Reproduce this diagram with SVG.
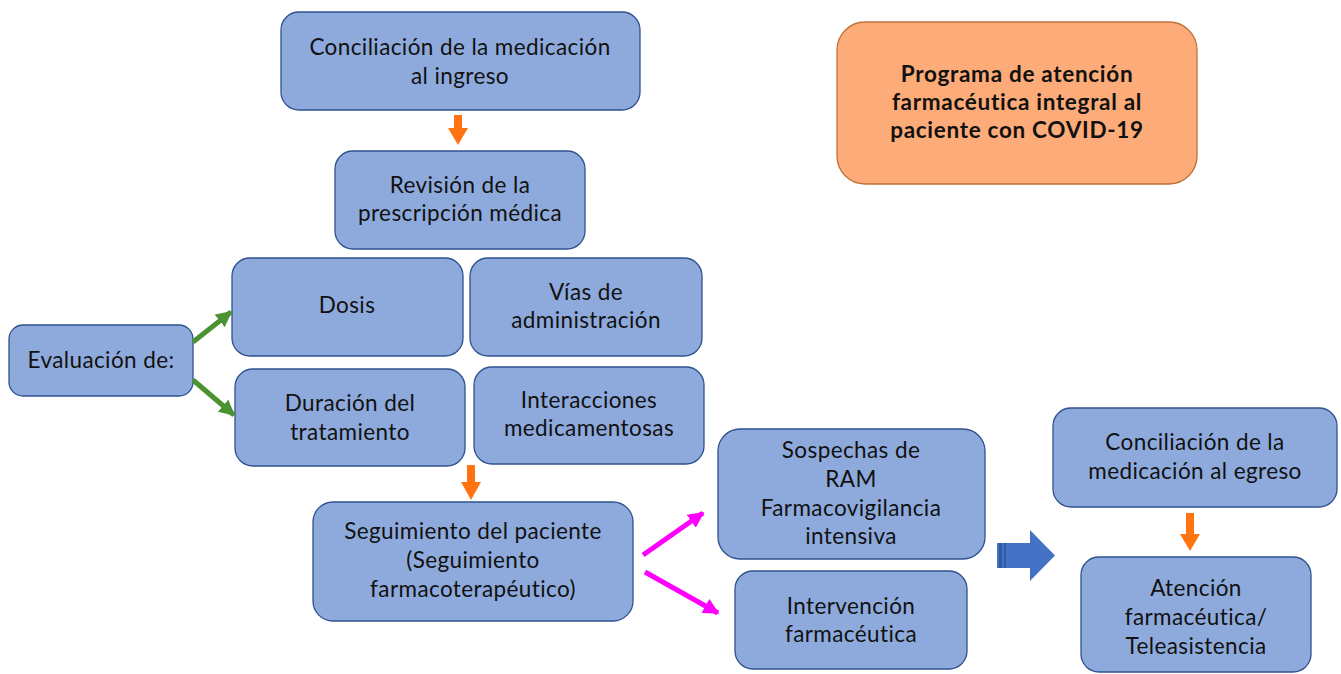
<svg xmlns="http://www.w3.org/2000/svg" width="1341" height="674" viewBox="0 0 1341 674">
<style>
.n{fill:#8eaadc;stroke:#2f528f;stroke-width:1.3}
.o{fill:#fdab78;stroke:#c0713a;stroke-width:1.3}
text{font-family:Lato,"Open Sans","Liberation Sans",sans-serif;font-size:22.5px;letter-spacing:0.4px;fill:#111;text-anchor:middle}
.b{font-weight:bold;font-size:22.5px;letter-spacing:0.7px}
.g{stroke:#4b9330;stroke-width:5;fill:none}
.m{stroke:#ff00ff;stroke-width:5;fill:none}
.or{fill:#ff7410}
</style>
<defs>
<marker id="ag" viewBox="0 0 10 10" refX="9" refY="5" markerWidth="3.2" markerHeight="3.2" orient="auto" markerUnits="strokeWidth"><path d="M0,0L10,5L0,10z" fill="#4b9330"/></marker>
<marker id="am" viewBox="0 0 10 10" refX="9" refY="5" markerWidth="3.2" markerHeight="3.2" orient="auto" markerUnits="strokeWidth"><path d="M0,0L10,5L0,10z" fill="#ff00ff"/></marker>
</defs>
<rect width="1341" height="674" fill="#fff"/>
<g id="n1"><rect class="n" x="281" y="12" width="359" height="98" rx="18"/><text x="460" y="55">Conciliación de la medicación</text><text x="460" y="84">al ingreso</text></g>
<g id="n2"><rect class="n" x="335" y="151" width="250" height="98" rx="18"/><text x="460" y="193">Revisión de la</text><text x="460" y="221">prescripción médica</text></g>
<g id="n3"><rect class="n" x="232" y="258" width="231" height="98" rx="18"/><text x="347" y="313">Dosis</text></g>
<g id="n4"><rect class="n" x="470" y="258" width="232" height="98" rx="18"/><text x="586" y="300">Vías de</text><text x="586" y="328">administración</text></g>
<g id="n5"><rect class="n" x="9" y="325" width="184" height="71" rx="14"/><text x="101" y="368">Evaluación de:</text></g>
<g id="n6"><rect class="n" x="235" y="369" width="230" height="97" rx="18"/><text x="350" y="411">Duración del</text><text x="350" y="440">tratamiento</text></g>
<g id="n7"><rect class="n" x="474" y="367" width="230" height="97" rx="18"/><text x="589" y="408">Interacciones</text><text x="589" y="436">medicamentosas</text></g>
<g id="n8"><rect class="n" x="313" y="502" width="320" height="119" rx="20"/><text x="473" y="539">Seguimiento del paciente</text><text x="473" y="568">(Seguimiento</text><text x="473" y="597">farmacoterapéutico)</text></g>
<g id="n9"><rect class="n" x="718" y="429" width="267" height="130" rx="22"/><text x="851" y="458">Sospechas de</text><text x="851" y="487">RAM</text><text x="851" y="516">Farmacovigilancia</text><text x="851" y="544">intensiva</text></g>
<g id="n10"><rect class="n" x="735" y="571" width="232" height="98" rx="18"/><text x="851" y="614">Intervención</text><text x="851" y="642">farmacéutica</text></g>
<g id="n11"><rect class="n" x="1053" y="408" width="284" height="99" rx="18"/><text x="1195" y="450">Conciliación de la</text><text x="1195" y="479">medicación al egreso</text></g>
<g id="n12"><rect class="n" x="1081" y="557" width="230" height="115" rx="18"/><text x="1196" y="596">Atención</text><text x="1196" y="625">farmacéutica/</text><text x="1196" y="654">Teleasistencia</text></g>
<g id="n13"><rect class="o" x="837" y="22" width="360" height="162" rx="28"/><text class="b" x="1017" y="82">Programa de atención</text><text class="b" x="1017" y="110">farmacéutica integral al</text><text class="b" x="1017" y="138">paciente con COVID-19</text></g>
<g id="connectors">
<path class="or" d="M454,115H462V128H468L458,145L448,128H454Z"/>
<path class="or" d="M467,465H475V482H481L471,500L461,482H467Z"/>
<path class="or" d="M1186,513H1194V534H1200L1190,551L1180,534H1186Z"/>
<line class="g" x1="193" y1="342" x2="231" y2="312" marker-end="url(#ag)"/>
<line class="g" x1="193" y1="380" x2="234" y2="415" marker-end="url(#ag)"/>
<line class="m" x1="643" y1="555" x2="703" y2="513" marker-end="url(#am)"/>
<line class="m" x1="645" y1="572" x2="718" y2="613" marker-end="url(#am)"/>
<path d="M997,543H1030V530L1055,555.5L1030,581V568H997Z" fill="#4472c4"/>
<rect x="999" y="543" width="3" height="25" fill="#2f5aa8"/>
<rect x="1004" y="543" width="2" height="25" fill="#2f5aa8"/>
</g>
</svg>
